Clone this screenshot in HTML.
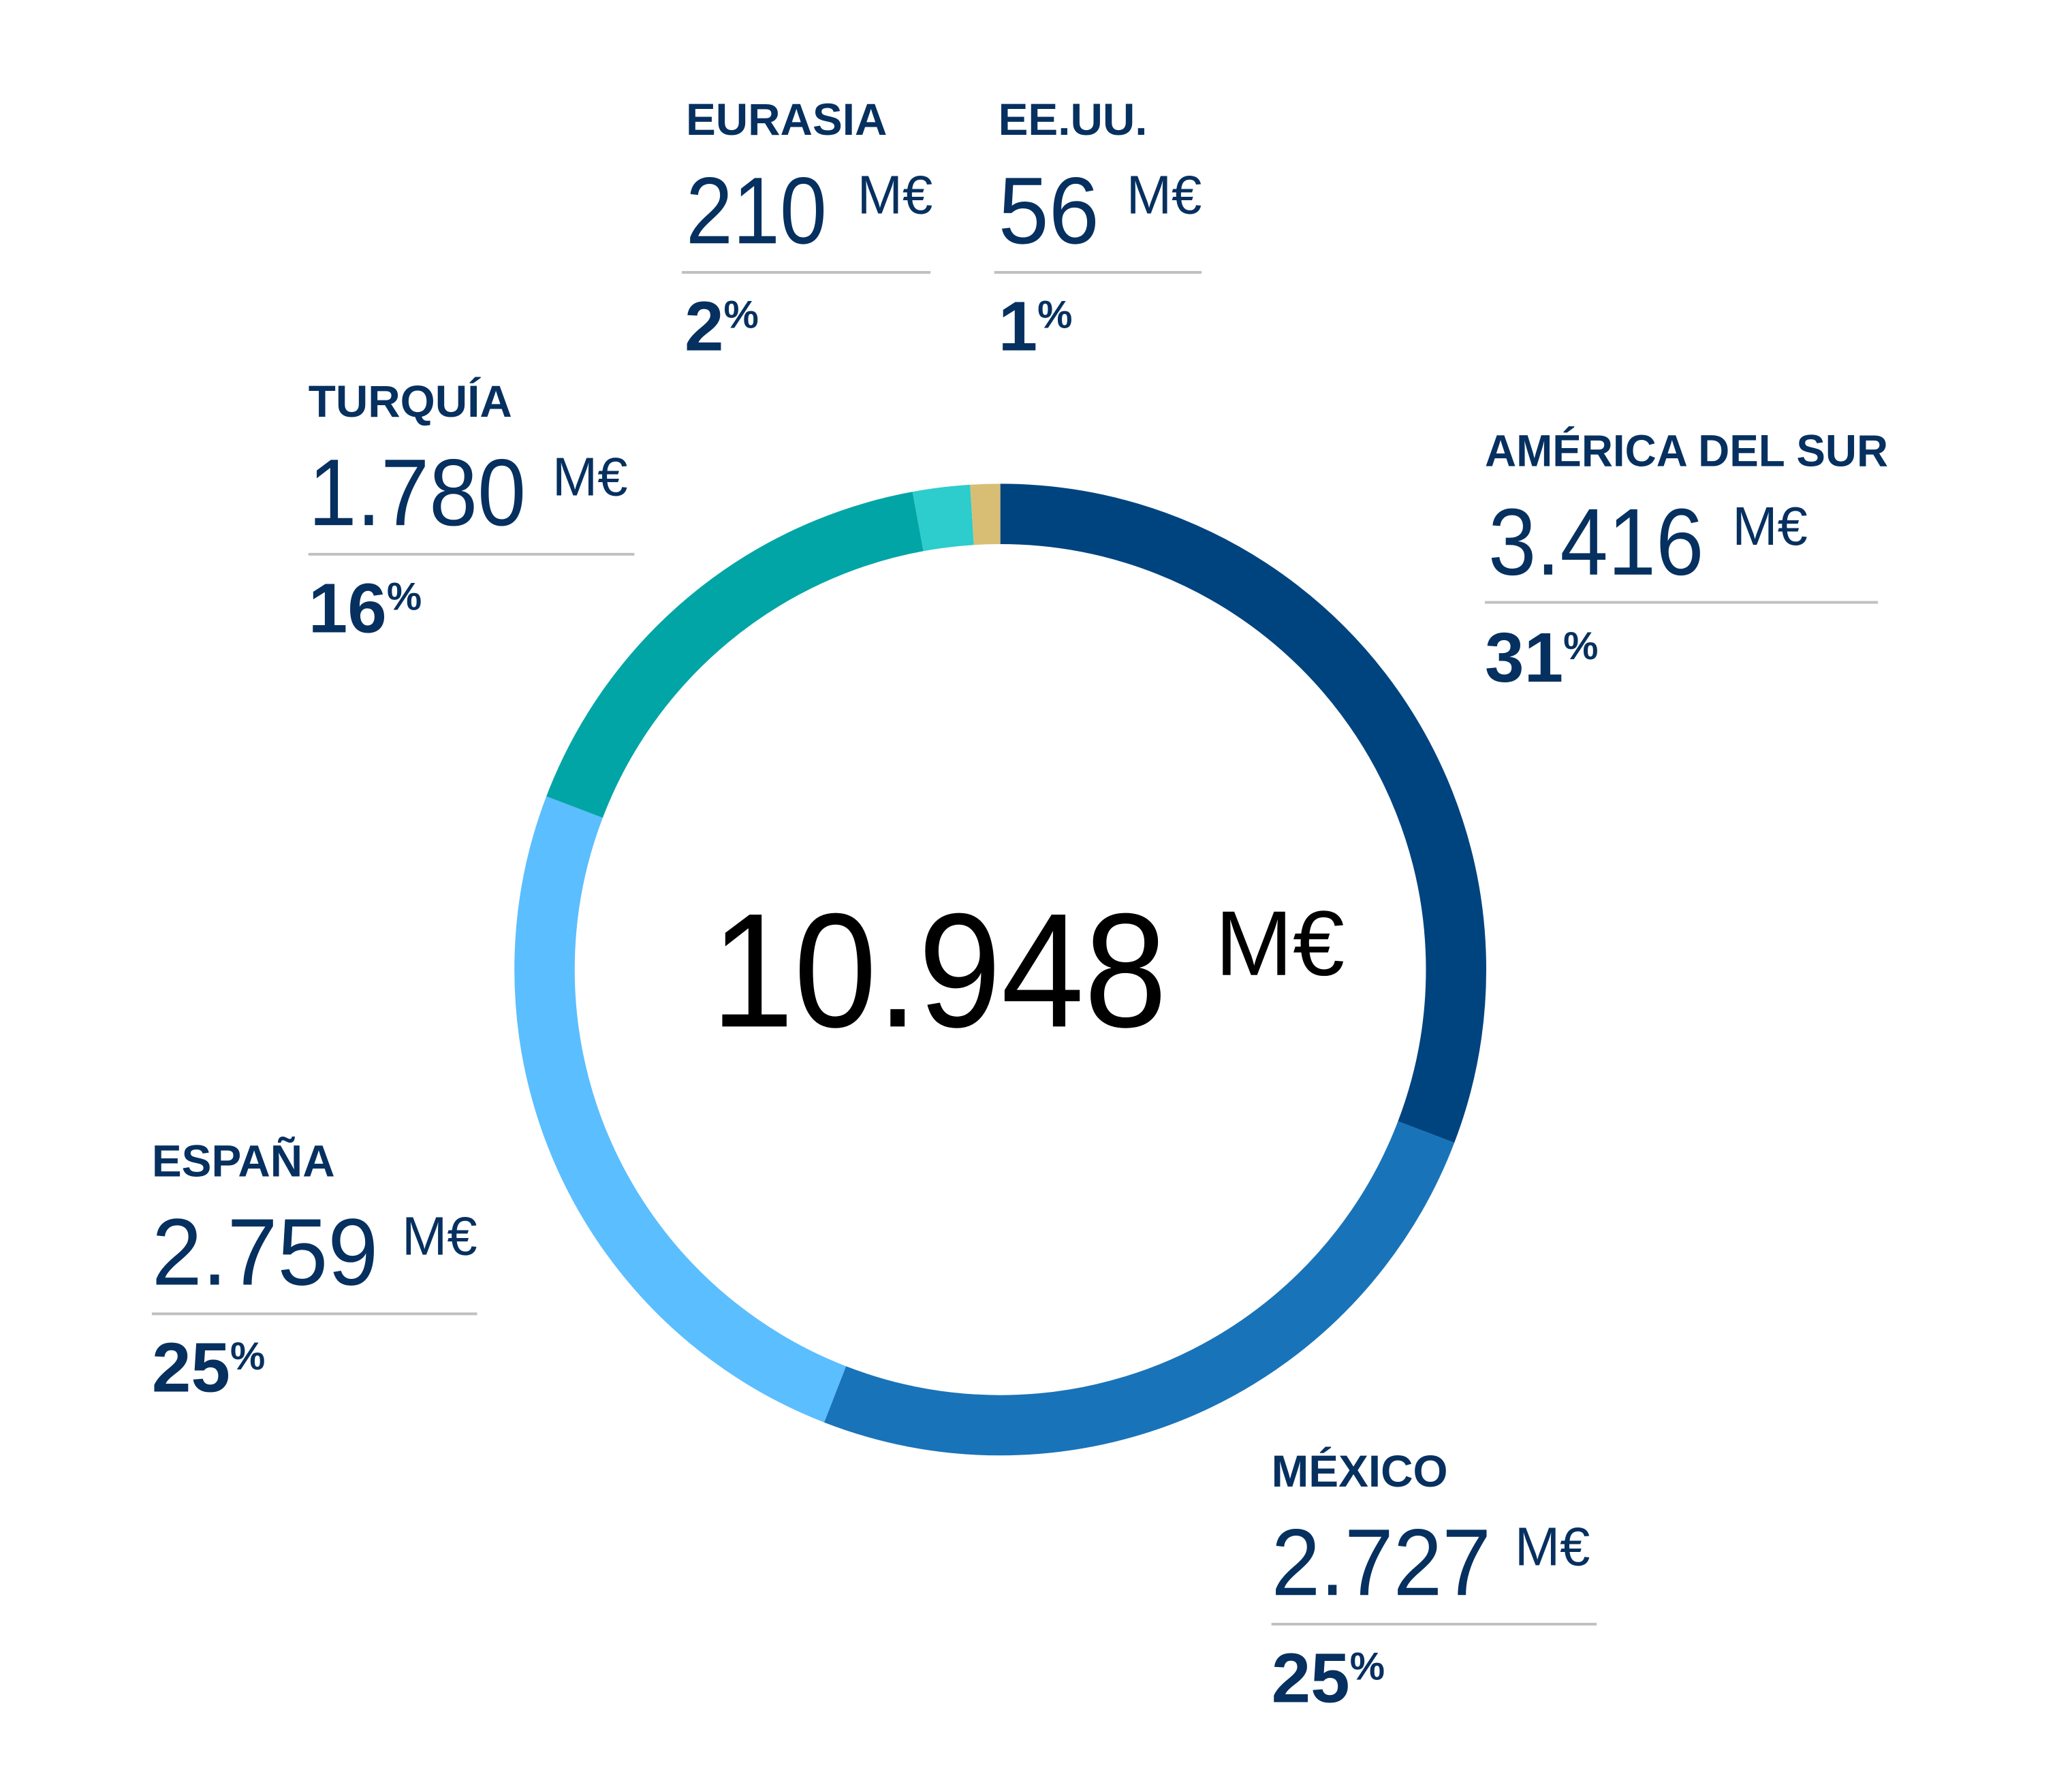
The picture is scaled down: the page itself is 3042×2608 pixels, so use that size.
<!DOCTYPE html>
<html><head><meta charset="utf-8"><style>
html,body{margin:0;padding:0;background:#fff;}
svg{display:block;}
.l{font-family:"Liberation Sans",sans-serif;font-weight:bold;font-size:66px;fill:#06305f;}
.n{font-family:"Liberation Sans",sans-serif;font-size:140px;fill:#06305f;}
.u{font-family:"Liberation Sans",sans-serif;font-size:80px;fill:#06305f;}
.p{font-family:"Liberation Sans",sans-serif;font-weight:bold;font-size:104px;fill:#06305f;}
.ps{font-size:58px;}
</style></head><body>
<svg width="3042" height="2608" viewBox="0 0 3042 2608" xmlns="http://www.w3.org/2000/svg">
<g transform="scale(0.995)">
<g transform="rotate(-90 1476 1431)" fill="none" stroke-width="89">
<circle cx="1476" cy="1431" r="672.5" stroke="#00447f" stroke-dasharray="1301.4 4225.4" stroke-dashoffset="0"/>
<circle cx="1476" cy="1431" r="672.5" stroke="#1973b8" stroke-dasharray="0 1301.4 1060.6 4225.4"/>
<circle cx="1476" cy="1431" r="672.5" stroke="#5bbeff" stroke-dasharray="0 2362 1052.1 4225.4"/>
<circle cx="1476" cy="1431" r="672.5" stroke="#02a5a5" stroke-dasharray="0 3414.1 688.7 4225.4"/>
<circle cx="1476" cy="1431" r="672.5" stroke="#2dcccd" stroke-dasharray="0 4102.8 80.3 4225.4"/>
<circle cx="1476" cy="1431" r="672.5" stroke="#d8be75" stroke-dasharray="0 4183.1 42.3 4225.4"/>
</g>
<text x="1049" y="1515" font-family="Liberation Sans,sans-serif" font-size="240" fill="#000" textLength="673" lengthAdjust="spacingAndGlyphs">10.948</text>
<text x="1793" y="1439" font-family="Liberation Sans,sans-serif" font-size="136" fill="#000" textLength="191" lengthAdjust="spacingAndGlyphs">M€</text>

<g>
<text class="l" x="1012" y="199">EURASIA</text>
<text class="n" x="1012" y="359" textLength="208" lengthAdjust="spacingAndGlyphs">210</text>
<text class="u" x="1265" y="315">M€</text>
<rect x="1006" y="400" width="367" height="4" fill="#c0c0c0"/>
<text class="p" x="1010" y="517">2<tspan class="ps" dy="-33">%</tspan></text>
</g>
<g>
<text class="l" x="1473" y="199">EE.UU.</text>
<text class="n" x="1473" y="359" textLength="149" lengthAdjust="spacingAndGlyphs">56</text>
<text class="u" x="1662" y="315">M€</text>
<rect x="1467" y="400" width="306" height="4" fill="#c0c0c0"/>
<text class="p" x="1473" y="517">1<tspan class="ps" dy="-33">%</tspan></text>
</g>
<g>
<text class="l" x="455" y="615">TURQUÍA</text>
<text class="n" x="455" y="775" textLength="321" lengthAdjust="spacingAndGlyphs">1.780</text>
<text class="u" x="815" y="731">M€</text>
<rect x="455" y="816" width="481" height="4" fill="#c0c0c0"/>
<text class="p" x="455" y="933">16<tspan class="ps" dy="-33">%</tspan></text>
</g>
<g>
<text class="l" x="2191" y="688" textLength="595" lengthAdjust="spacingAndGlyphs">AMÉRICA DEL SUR</text>
<text class="n" x="2196" y="848" textLength="318" lengthAdjust="spacingAndGlyphs">3.416</text>
<text class="u" x="2556" y="804">M€</text>
<rect x="2191" y="887" width="580" height="4" fill="#c0c0c0"/>
<text class="p" x="2191" y="1006">31<tspan class="ps" dy="-33">%</tspan></text>
</g>
<g>
<text class="l" x="224" y="1736">ESPAÑA</text>
<text class="n" x="224" y="1896" textLength="334" lengthAdjust="spacingAndGlyphs">2.759</text>
<text class="u" x="593" y="1852">M€</text>
<rect x="224" y="1937" width="480" height="4" fill="#c0c0c0"/>
<text class="p" x="224" y="2054">25<tspan class="ps" dy="-33">%</tspan></text>
</g>
<g>
<text class="l" x="1876" y="2194">MÉXICO</text>
<text class="n" x="1876" y="2354" textLength="324" lengthAdjust="spacingAndGlyphs">2.727</text>
<text class="u" x="2235" y="2310">M€</text>
<rect x="1876" y="2395" width="480" height="4" fill="#c0c0c0"/>
<text class="p" x="1876" y="2512">25<tspan class="ps" dy="-33">%</tspan></text>
</g>
</g>
</svg>
</body></html>
